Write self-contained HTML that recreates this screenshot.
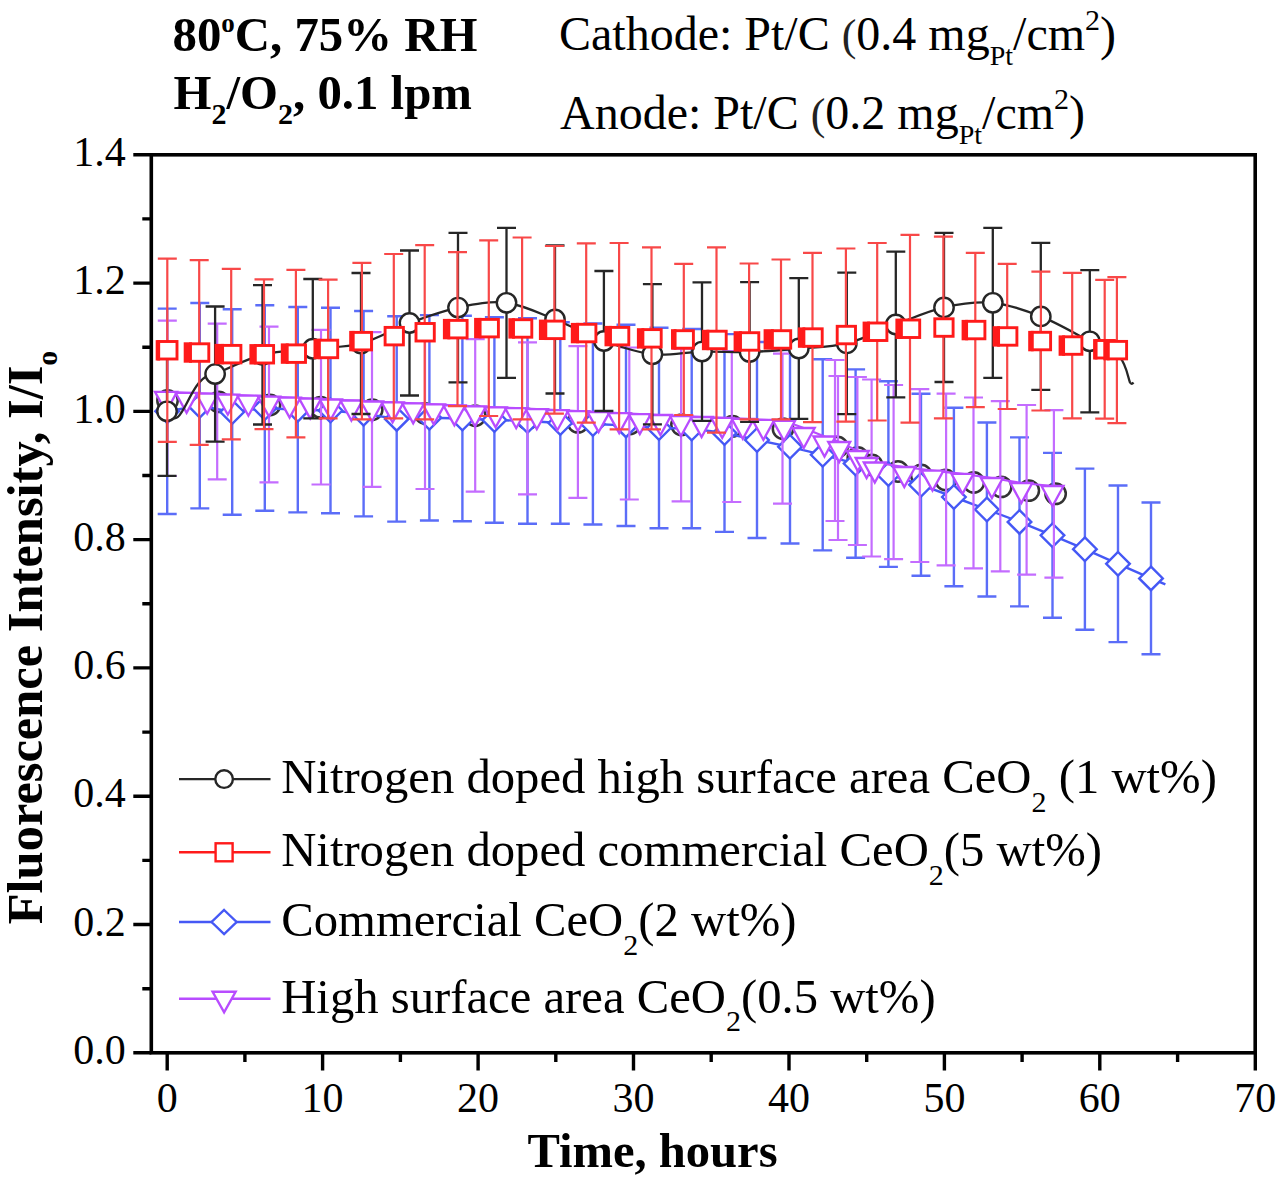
<!DOCTYPE html>
<html><head><meta charset="utf-8"><title>Fluorescence Intensity</title><style>html,body{margin:0;padding:0;background:#fff;}body{width:1280px;height:1179px;overflow:hidden;}svg{display:block;}</style></head><body>
<svg width="1280" height="1179" viewBox="0 0 1280 1179">
<rect width="1280" height="1179" fill="#fff"/>
<circle cx="167.5" cy="400.4" r="10.2" fill="#fff" stroke="#333333" stroke-width="2.5"/>
<circle cx="218.8" cy="401.9" r="10.2" fill="#fff" stroke="#333333" stroke-width="2.5"/>
<circle cx="270.0" cy="405.0" r="10.2" fill="#fff" stroke="#333333" stroke-width="2.5"/>
<circle cx="320.6" cy="407.3" r="10.2" fill="#fff" stroke="#333333" stroke-width="2.5"/>
<circle cx="372.2" cy="409.7" r="10.2" fill="#fff" stroke="#333333" stroke-width="2.5"/>
<circle cx="425.0" cy="413.5" r="10.2" fill="#fff" stroke="#333333" stroke-width="2.5"/>
<circle cx="475.2" cy="415.7" r="10.2" fill="#fff" stroke="#333333" stroke-width="2.5"/>
<circle cx="527.5" cy="419.0" r="10.2" fill="#fff" stroke="#333333" stroke-width="2.5"/>
<circle cx="578.0" cy="422.4" r="10.2" fill="#fff" stroke="#333333" stroke-width="2.5"/>
<circle cx="630.0" cy="424.0" r="10.2" fill="#fff" stroke="#333333" stroke-width="2.5"/>
<circle cx="681.5" cy="424.8" r="10.2" fill="#fff" stroke="#333333" stroke-width="2.5"/>
<circle cx="732.5" cy="426.3" r="10.2" fill="#fff" stroke="#333333" stroke-width="2.5"/>
<circle cx="783.0" cy="428.7" r="10.2" fill="#fff" stroke="#333333" stroke-width="2.5"/>
<circle cx="837.5" cy="447.0" r="10.2" fill="#fff" stroke="#333333" stroke-width="2.5"/>
<circle cx="857.8" cy="457.5" r="10.2" fill="#fff" stroke="#333333" stroke-width="2.5"/>
<circle cx="872.0" cy="465.0" r="10.2" fill="#fff" stroke="#333333" stroke-width="2.5"/>
<circle cx="898.0" cy="471.5" r="10.2" fill="#fff" stroke="#333333" stroke-width="2.5"/>
<circle cx="921.2" cy="475.0" r="10.2" fill="#fff" stroke="#333333" stroke-width="2.5"/>
<circle cx="945.6" cy="480.0" r="10.2" fill="#fff" stroke="#333333" stroke-width="2.5"/>
<circle cx="973.8" cy="482.5" r="10.2" fill="#fff" stroke="#333333" stroke-width="2.5"/>
<circle cx="1001.2" cy="486.9" r="10.2" fill="#fff" stroke="#333333" stroke-width="2.5"/>
<circle cx="1028.8" cy="490.6" r="10.2" fill="#fff" stroke="#333333" stroke-width="2.5"/>
<circle cx="1055.6" cy="493.8" r="10.2" fill="#fff" stroke="#333333" stroke-width="2.5"/>
<path d="M167.2 308.6V514.0M157.7 308.6H176.7M157.7 514.0H176.7" stroke="#5b6df8" stroke-width="2.4" fill="none"/>
<path d="M199.8 303.0V508.4M190.3 303.0H209.3M190.3 508.4H209.3" stroke="#5b6df8" stroke-width="2.4" fill="none"/>
<path d="M232.2 309.3V514.7M222.7 309.3H241.7M222.7 514.7H241.7" stroke="#5b6df8" stroke-width="2.4" fill="none"/>
<path d="M264.8 305.3V510.7M255.3 305.3H274.3M255.3 510.7H274.3" stroke="#5b6df8" stroke-width="2.4" fill="none"/>
<path d="M297.8 307.0V512.4M288.3 307.0H307.3M288.3 512.4H307.3" stroke="#5b6df8" stroke-width="2.4" fill="none"/>
<path d="M330.5 307.8V513.2M321.0 307.8H340.0M321.0 513.2H340.0" stroke="#5b6df8" stroke-width="2.4" fill="none"/>
<path d="M363.6 311.0V516.4M354.1 311.0H373.1M354.1 516.4H373.1" stroke="#5b6df8" stroke-width="2.4" fill="none"/>
<path d="M396.7 316.2V521.6M387.2 316.2H406.2M387.2 521.6H406.2" stroke="#5b6df8" stroke-width="2.4" fill="none"/>
<path d="M429.4 315.1V520.5M419.9 315.1H438.9M419.9 520.5H438.9" stroke="#5b6df8" stroke-width="2.4" fill="none"/>
<path d="M462.4 315.8V521.2M452.9 315.8H471.9M452.9 521.2H471.9" stroke="#5b6df8" stroke-width="2.4" fill="none"/>
<path d="M494.4 317.3V522.7M484.9 317.3H503.9M484.9 522.7H503.9" stroke="#5b6df8" stroke-width="2.4" fill="none"/>
<path d="M527.5 318.3V523.7M518.0 318.3H537.0M518.0 523.7H537.0" stroke="#5b6df8" stroke-width="2.4" fill="none"/>
<path d="M560.3 322.2V523.8M550.8 322.2H569.8M550.8 523.8H569.8" stroke="#5b6df8" stroke-width="2.4" fill="none"/>
<path d="M592.9 323.5V524.5M583.4 323.5H602.4M583.4 524.5H602.4" stroke="#5b6df8" stroke-width="2.4" fill="none"/>
<path d="M626.0 324.8V526.0M616.5 324.8H635.5M616.5 526.0H635.5" stroke="#5b6df8" stroke-width="2.4" fill="none"/>
<path d="M659.0 327.7V528.3M649.5 327.7H668.5M649.5 528.3H668.5" stroke="#5b6df8" stroke-width="2.4" fill="none"/>
<path d="M691.7 329.0V528.2M682.2 329.0H701.2M682.2 528.2H701.2" stroke="#5b6df8" stroke-width="2.4" fill="none"/>
<path d="M724.5 334.1V531.9M715.0 334.1H734.0M715.0 531.9H734.0" stroke="#5b6df8" stroke-width="2.4" fill="none"/>
<path d="M757.0 342.0V538.0M747.5 342.0H766.5M747.5 538.0H766.5" stroke="#5b6df8" stroke-width="2.4" fill="none"/>
<path d="M790.0 350.1V543.5M780.5 350.1H799.5M780.5 543.5H799.5" stroke="#5b6df8" stroke-width="2.4" fill="none"/>
<path d="M822.7 359.2V550.4M813.2 359.2H832.2M813.2 550.4H832.2" stroke="#5b6df8" stroke-width="2.4" fill="none"/>
<path d="M855.6 369.4V557.8M846.1 369.4H865.1M846.1 557.8H865.1" stroke="#5b6df8" stroke-width="2.4" fill="none"/>
<path d="M888.4 381.3V566.9M878.9 381.3H897.9M878.9 566.9H897.9" stroke="#5b6df8" stroke-width="2.4" fill="none"/>
<path d="M921.0 393.8V575.8M911.5 393.8H930.5M911.5 575.8H930.5" stroke="#5b6df8" stroke-width="2.4" fill="none"/>
<path d="M953.9 407.8V586.2M944.4 407.8H963.4M944.4 586.2H963.4" stroke="#5b6df8" stroke-width="2.4" fill="none"/>
<path d="M986.9 422.5V596.5M977.4 422.5H996.4M977.4 596.5H996.4" stroke="#5b6df8" stroke-width="2.4" fill="none"/>
<path d="M1019.5 437.4V606.4M1010.0 437.4H1029.0M1010.0 606.4H1029.0" stroke="#5b6df8" stroke-width="2.4" fill="none"/>
<path d="M1052.5 452.9V617.7M1043.0 452.9H1062.0M1043.0 617.7H1062.0" stroke="#5b6df8" stroke-width="2.4" fill="none"/>
<path d="M1084.9 468.6V629.8M1075.4 468.6H1094.4M1075.4 629.8H1094.4" stroke="#5b6df8" stroke-width="2.4" fill="none"/>
<path d="M1118.0 485.5V642.1M1108.5 485.5H1127.5M1108.5 642.1H1127.5" stroke="#5b6df8" stroke-width="2.4" fill="none"/>
<path d="M1151.0 502.5V654.3M1141.5 502.5H1160.5M1141.5 654.3H1160.5" stroke="#5b6df8" stroke-width="2.4" fill="none"/>
<polyline points="167.2,411.3 199.8,405.7 232.2,412.0 264.8,408.0 297.8,409.7 330.5,410.5 363.6,413.7 396.7,418.9 429.4,417.8 462.4,418.5 494.4,420.0 527.5,421.0 560.3,423.0 592.9,424.0 626.0,425.4 659.0,428.0 691.7,428.6 724.5,433.0 757.0,440.0 790.0,446.8 822.7,454.8 855.6,463.6 888.4,474.1 921.0,484.8 953.9,497.0 986.9,509.5 1019.5,521.9 1052.5,535.3 1084.9,549.2 1118.0,563.8 1151.0,578.4 1165.4,584.3" fill="none" stroke="#4558f5" stroke-width="2.4"/>
<path d="M167.2 399.5L179.0 411.3L167.2 423.1L155.4 411.3Z" fill="#fff" stroke="#4558f5" stroke-width="2.4"/>
<path d="M199.8 393.9L211.6 405.7L199.8 417.5L188.0 405.7Z" fill="#fff" stroke="#4558f5" stroke-width="2.4"/>
<path d="M232.2 400.2L244.0 412.0L232.2 423.8L220.4 412.0Z" fill="#fff" stroke="#4558f5" stroke-width="2.4"/>
<path d="M264.8 396.2L276.6 408.0L264.8 419.8L253.0 408.0Z" fill="#fff" stroke="#4558f5" stroke-width="2.4"/>
<path d="M297.8 397.9L309.6 409.7L297.8 421.5L286.0 409.7Z" fill="#fff" stroke="#4558f5" stroke-width="2.4"/>
<path d="M330.5 398.7L342.3 410.5L330.5 422.3L318.7 410.5Z" fill="#fff" stroke="#4558f5" stroke-width="2.4"/>
<path d="M363.6 401.9L375.4 413.7L363.6 425.5L351.8 413.7Z" fill="#fff" stroke="#4558f5" stroke-width="2.4"/>
<path d="M396.7 407.1L408.5 418.9L396.7 430.7L384.9 418.9Z" fill="#fff" stroke="#4558f5" stroke-width="2.4"/>
<path d="M429.4 406.0L441.2 417.8L429.4 429.6L417.6 417.8Z" fill="#fff" stroke="#4558f5" stroke-width="2.4"/>
<path d="M462.4 406.7L474.2 418.5L462.4 430.3L450.6 418.5Z" fill="#fff" stroke="#4558f5" stroke-width="2.4"/>
<path d="M494.4 408.2L506.2 420.0L494.4 431.8L482.6 420.0Z" fill="#fff" stroke="#4558f5" stroke-width="2.4"/>
<path d="M527.5 409.2L539.3 421.0L527.5 432.8L515.7 421.0Z" fill="#fff" stroke="#4558f5" stroke-width="2.4"/>
<path d="M560.3 411.2L572.1 423.0L560.3 434.8L548.5 423.0Z" fill="#fff" stroke="#4558f5" stroke-width="2.4"/>
<path d="M592.9 412.2L604.7 424.0L592.9 435.8L581.1 424.0Z" fill="#fff" stroke="#4558f5" stroke-width="2.4"/>
<path d="M626.0 413.6L637.8 425.4L626.0 437.2L614.2 425.4Z" fill="#fff" stroke="#4558f5" stroke-width="2.4"/>
<path d="M659.0 416.2L670.8 428.0L659.0 439.8L647.2 428.0Z" fill="#fff" stroke="#4558f5" stroke-width="2.4"/>
<path d="M691.7 416.8L703.5 428.6L691.7 440.4L679.9 428.6Z" fill="#fff" stroke="#4558f5" stroke-width="2.4"/>
<path d="M724.5 421.2L736.3 433.0L724.5 444.8L712.7 433.0Z" fill="#fff" stroke="#4558f5" stroke-width="2.4"/>
<path d="M757.0 428.2L768.8 440.0L757.0 451.8L745.2 440.0Z" fill="#fff" stroke="#4558f5" stroke-width="2.4"/>
<path d="M790.0 435.0L801.8 446.8L790.0 458.6L778.2 446.8Z" fill="#fff" stroke="#4558f5" stroke-width="2.4"/>
<path d="M822.7 443.0L834.5 454.8L822.7 466.6L810.9 454.8Z" fill="#fff" stroke="#4558f5" stroke-width="2.4"/>
<path d="M855.6 451.8L867.4 463.6L855.6 475.4L843.8 463.6Z" fill="#fff" stroke="#4558f5" stroke-width="2.4"/>
<path d="M888.4 462.3L900.2 474.1L888.4 485.9L876.6 474.1Z" fill="#fff" stroke="#4558f5" stroke-width="2.4"/>
<path d="M921.0 473.0L932.8 484.8L921.0 496.6L909.2 484.8Z" fill="#fff" stroke="#4558f5" stroke-width="2.4"/>
<path d="M953.9 485.2L965.7 497.0L953.9 508.8L942.1 497.0Z" fill="#fff" stroke="#4558f5" stroke-width="2.4"/>
<path d="M986.9 497.7L998.7 509.5L986.9 521.3L975.1 509.5Z" fill="#fff" stroke="#4558f5" stroke-width="2.4"/>
<path d="M1019.5 510.1L1031.3 521.9L1019.5 533.7L1007.7 521.9Z" fill="#fff" stroke="#4558f5" stroke-width="2.4"/>
<path d="M1052.5 523.5L1064.3 535.3L1052.5 547.1L1040.7 535.3Z" fill="#fff" stroke="#4558f5" stroke-width="2.4"/>
<path d="M1084.9 537.4L1096.7 549.2L1084.9 561.0L1073.1 549.2Z" fill="#fff" stroke="#4558f5" stroke-width="2.4"/>
<path d="M1118.0 552.0L1129.8 563.8L1118.0 575.6L1106.2 563.8Z" fill="#fff" stroke="#4558f5" stroke-width="2.4"/>
<path d="M1151.0 566.6L1162.8 578.4L1151.0 590.2L1139.2 578.4Z" fill="#fff" stroke="#4558f5" stroke-width="2.4"/>
<path d="M167.3 320.7V476.0M157.8 320.7H176.8M157.8 476.0H176.8" stroke="#c46cff" stroke-width="2.2" fill="none"/>
<path d="M217.2 323.7V479.3M207.7 323.7H226.7M207.7 479.3H226.7" stroke="#c46cff" stroke-width="2.2" fill="none"/>
<path d="M269.0 326.7V482.3M259.5 326.7H278.5M259.5 482.3H278.5" stroke="#c46cff" stroke-width="2.2" fill="none"/>
<path d="M321.0 329.9V484.5M311.5 329.9H330.5M311.5 484.5H330.5" stroke="#c46cff" stroke-width="2.2" fill="none"/>
<path d="M372.0 332.2V486.8M362.5 332.2H381.5M362.5 486.8H381.5" stroke="#c46cff" stroke-width="2.2" fill="none"/>
<path d="M425.0 336.0V489.0M415.5 336.0H434.5M415.5 489.0H434.5" stroke="#c46cff" stroke-width="2.2" fill="none"/>
<path d="M475.2 339.1V491.7M465.7 339.1H484.7M465.7 491.7H484.7" stroke="#c46cff" stroke-width="2.2" fill="none"/>
<path d="M527.5 342.4V494.4M518.0 342.4H537.0M518.0 494.4H537.0" stroke="#c46cff" stroke-width="2.2" fill="none"/>
<path d="M577.9 346.2V497.8M568.4 346.2H587.4M568.4 497.8H587.4" stroke="#c46cff" stroke-width="2.2" fill="none"/>
<path d="M629.3 347.5V499.5M619.8 347.5H638.8M619.8 499.5H638.8" stroke="#c46cff" stroke-width="2.2" fill="none"/>
<path d="M681.1 348.7V501.3M671.6 348.7H690.6M671.6 501.3H690.6" stroke="#c46cff" stroke-width="2.2" fill="none"/>
<path d="M731.8 351.0V502.0M722.3 351.0H741.3M722.3 502.0H741.3" stroke="#c46cff" stroke-width="2.2" fill="none"/>
<path d="M782.5 353.7V503.7M773.0 353.7H792.0M773.0 503.7H792.0" stroke="#c46cff" stroke-width="2.2" fill="none"/>
<path d="M835.0 360.0V521.0M825.5 360.0H844.5M825.5 521.0H844.5" stroke="#c46cff" stroke-width="2.2" fill="none"/>
<path d="M838.0 376.0V540.0M828.5 376.0H847.5M828.5 540.0H847.5" stroke="#c46cff" stroke-width="2.2" fill="none"/>
<path d="M857.4 377.0V545.0M847.9 377.0H866.9M847.9 545.0H866.9" stroke="#c46cff" stroke-width="2.2" fill="none"/>
<path d="M871.6 379.5V556.5M862.1 379.5H881.1M862.1 556.5H881.1" stroke="#c46cff" stroke-width="2.2" fill="none"/>
<path d="M893.6 385.0V559.2M884.1 385.0H903.1M884.1 559.2H903.1" stroke="#c46cff" stroke-width="2.2" fill="none"/>
<path d="M919.8 389.2V562.0M910.3 389.2H929.3M910.3 562.0H929.3" stroke="#c46cff" stroke-width="2.2" fill="none"/>
<path d="M946.1 393.7V565.3M936.6 393.7H955.6M936.6 565.3H955.6" stroke="#c46cff" stroke-width="2.2" fill="none"/>
<path d="M973.5 397.5V568.3M964.0 397.5H983.0M964.0 568.3H983.0" stroke="#c46cff" stroke-width="2.2" fill="none"/>
<path d="M1000.3 401.2V571.4M990.8 401.2H1009.8M990.8 571.4H1009.8" stroke="#c46cff" stroke-width="2.2" fill="none"/>
<path d="M1026.6 405.0V574.6M1017.1 405.0H1036.1M1017.1 574.6H1036.1" stroke="#c46cff" stroke-width="2.2" fill="none"/>
<path d="M1053.9 410.1V577.7M1044.4 410.1H1063.4M1044.4 577.7H1063.4" stroke="#c46cff" stroke-width="2.2" fill="none"/>
<polyline points="166.0,391.8 186.6,392.8 207.2,393.7 227.8,394.7 248.4,395.7 269.0,396.6 289.6,397.6 310.2,398.6 330.8,399.5 351.4,400.5 372.0,401.5 392.6,402.4 413.2,403.4 433.8,404.4 454.4,405.3 475.0,406.3 495.6,407.3 516.2,408.2 536.8,409.2 557.4,410.2 578.0,411.1 598.6,412.1 619.2,413.1 639.8,414.1 660.4,415.0 681.0,416.0 701.6,417.0 722.2,417.9 742.8,418.9 763.4,419.9 784.0,420.8 803.7,428.0 824.5,436.5 839.2,442.0 857.8,451.0 866.6,458.0 874.8,462.5 904.3,467.0 932.5,470.6 962.5,473.8 991.9,478.0 1021.3,483.0 1052.5,486.0" fill="none" stroke="#b84cff" stroke-width="2.2"/>
<path d="M155.0 391.8H177.0L166.0 411.8Z" fill="#fff" stroke="#b84cff" stroke-width="2.3" stroke-linejoin="miter"/>
<path d="M175.6 392.8H197.6L186.6 412.8Z" fill="#fff" stroke="#b84cff" stroke-width="2.3" stroke-linejoin="miter"/>
<path d="M196.2 393.7H218.2L207.2 413.7Z" fill="#fff" stroke="#b84cff" stroke-width="2.3" stroke-linejoin="miter"/>
<path d="M216.8 394.7H238.8L227.8 414.7Z" fill="#fff" stroke="#b84cff" stroke-width="2.3" stroke-linejoin="miter"/>
<path d="M237.4 395.7H259.4L248.4 415.7Z" fill="#fff" stroke="#b84cff" stroke-width="2.3" stroke-linejoin="miter"/>
<path d="M258.0 396.6H280.0L269.0 416.6Z" fill="#fff" stroke="#b84cff" stroke-width="2.3" stroke-linejoin="miter"/>
<path d="M278.6 397.6H300.6L289.6 417.6Z" fill="#fff" stroke="#b84cff" stroke-width="2.3" stroke-linejoin="miter"/>
<path d="M299.2 398.6H321.2L310.2 418.6Z" fill="#fff" stroke="#b84cff" stroke-width="2.3" stroke-linejoin="miter"/>
<path d="M319.8 399.5H341.8L330.8 419.5Z" fill="#fff" stroke="#b84cff" stroke-width="2.3" stroke-linejoin="miter"/>
<path d="M340.4 400.5H362.4L351.4 420.5Z" fill="#fff" stroke="#b84cff" stroke-width="2.3" stroke-linejoin="miter"/>
<path d="M361.0 401.5H383.0L372.0 421.5Z" fill="#fff" stroke="#b84cff" stroke-width="2.3" stroke-linejoin="miter"/>
<path d="M381.6 402.4H403.6L392.6 422.4Z" fill="#fff" stroke="#b84cff" stroke-width="2.3" stroke-linejoin="miter"/>
<path d="M402.2 403.4H424.2L413.2 423.4Z" fill="#fff" stroke="#b84cff" stroke-width="2.3" stroke-linejoin="miter"/>
<path d="M422.8 404.4H444.8L433.8 424.4Z" fill="#fff" stroke="#b84cff" stroke-width="2.3" stroke-linejoin="miter"/>
<path d="M443.4 405.3H465.4L454.4 425.3Z" fill="#fff" stroke="#b84cff" stroke-width="2.3" stroke-linejoin="miter"/>
<path d="M464.0 406.3H486.0L475.0 426.3Z" fill="#fff" stroke="#b84cff" stroke-width="2.3" stroke-linejoin="miter"/>
<path d="M484.6 407.3H506.6L495.6 427.3Z" fill="#fff" stroke="#b84cff" stroke-width="2.3" stroke-linejoin="miter"/>
<path d="M505.2 408.2H527.2L516.2 428.2Z" fill="#fff" stroke="#b84cff" stroke-width="2.3" stroke-linejoin="miter"/>
<path d="M525.8 409.2H547.8L536.8 429.2Z" fill="#fff" stroke="#b84cff" stroke-width="2.3" stroke-linejoin="miter"/>
<path d="M546.4 410.2H568.4L557.4 430.2Z" fill="#fff" stroke="#b84cff" stroke-width="2.3" stroke-linejoin="miter"/>
<path d="M567.0 411.1H589.0L578.0 431.1Z" fill="#fff" stroke="#b84cff" stroke-width="2.3" stroke-linejoin="miter"/>
<path d="M587.6 412.1H609.6L598.6 432.1Z" fill="#fff" stroke="#b84cff" stroke-width="2.3" stroke-linejoin="miter"/>
<path d="M608.2 413.1H630.2L619.2 433.1Z" fill="#fff" stroke="#b84cff" stroke-width="2.3" stroke-linejoin="miter"/>
<path d="M628.8 414.1H650.8L639.8 434.1Z" fill="#fff" stroke="#b84cff" stroke-width="2.3" stroke-linejoin="miter"/>
<path d="M649.4 415.0H671.4L660.4 435.0Z" fill="#fff" stroke="#b84cff" stroke-width="2.3" stroke-linejoin="miter"/>
<path d="M670.0 416.0H692.0L681.0 436.0Z" fill="#fff" stroke="#b84cff" stroke-width="2.3" stroke-linejoin="miter"/>
<path d="M690.6 417.0H712.6L701.6 437.0Z" fill="#fff" stroke="#b84cff" stroke-width="2.3" stroke-linejoin="miter"/>
<path d="M711.2 417.9H733.2L722.2 437.9Z" fill="#fff" stroke="#b84cff" stroke-width="2.3" stroke-linejoin="miter"/>
<path d="M731.8 418.9H753.8L742.8 438.9Z" fill="#fff" stroke="#b84cff" stroke-width="2.3" stroke-linejoin="miter"/>
<path d="M752.4 419.9H774.4L763.4 439.9Z" fill="#fff" stroke="#b84cff" stroke-width="2.3" stroke-linejoin="miter"/>
<path d="M773.0 420.8H795.0L784.0 440.8Z" fill="#fff" stroke="#b84cff" stroke-width="2.3" stroke-linejoin="miter"/>
<path d="M792.7 428.0H814.7L803.7 448.0Z" fill="#fff" stroke="#b84cff" stroke-width="2.3" stroke-linejoin="miter"/>
<path d="M813.5 436.5H835.5L824.5 456.5Z" fill="#fff" stroke="#b84cff" stroke-width="2.3" stroke-linejoin="miter"/>
<path d="M828.2 442.0H850.2L839.2 462.0Z" fill="#fff" stroke="#b84cff" stroke-width="2.3" stroke-linejoin="miter"/>
<path d="M846.8 451.0H868.8L857.8 471.0Z" fill="#fff" stroke="#b84cff" stroke-width="2.3" stroke-linejoin="miter"/>
<path d="M855.6 458.0H877.6L866.6 478.0Z" fill="#fff" stroke="#b84cff" stroke-width="2.3" stroke-linejoin="miter"/>
<path d="M863.8 462.5H885.8L874.8 482.5Z" fill="#fff" stroke="#b84cff" stroke-width="2.3" stroke-linejoin="miter"/>
<path d="M893.3 467.0H915.3L904.3 487.0Z" fill="#fff" stroke="#b84cff" stroke-width="2.3" stroke-linejoin="miter"/>
<path d="M921.5 470.6H943.5L932.5 490.6Z" fill="#fff" stroke="#b84cff" stroke-width="2.3" stroke-linejoin="miter"/>
<path d="M951.5 473.8H973.5L962.5 493.8Z" fill="#fff" stroke="#b84cff" stroke-width="2.3" stroke-linejoin="miter"/>
<path d="M980.9 478.0H1002.9L991.9 498.0Z" fill="#fff" stroke="#b84cff" stroke-width="2.3" stroke-linejoin="miter"/>
<path d="M1010.3 483.0H1032.3L1021.3 503.0Z" fill="#fff" stroke="#b84cff" stroke-width="2.3" stroke-linejoin="miter"/>
<path d="M1041.5 486.0H1063.5L1052.5 506.0Z" fill="#fff" stroke="#b84cff" stroke-width="2.3" stroke-linejoin="miter"/>
<path d="M167.0 346.7V475.9M157.5 346.7H176.5M157.5 475.9H176.5" stroke="#262626" stroke-width="2.3" fill="none"/>
<path d="M215.1 306.5V441.7M205.6 306.5H224.6M205.6 441.7H224.6" stroke="#262626" stroke-width="2.3" fill="none"/>
<path d="M262.5 285.1V424.5M253.0 285.1H272.0M253.0 424.5H272.0" stroke="#262626" stroke-width="2.3" fill="none"/>
<path d="M312.8 279.0V418.4M303.3 279.0H322.3M303.3 418.4H322.3" stroke="#262626" stroke-width="2.3" fill="none"/>
<path d="M361.0 273.0V414.0M351.5 273.0H370.5M351.5 414.0H370.5" stroke="#262626" stroke-width="2.3" fill="none"/>
<path d="M409.5 250.5V395.5M400.0 250.5H419.0M400.0 395.5H419.0" stroke="#262626" stroke-width="2.3" fill="none"/>
<path d="M458.0 232.9V382.3M448.5 232.9H467.5M448.5 382.3H467.5" stroke="#262626" stroke-width="2.3" fill="none"/>
<path d="M506.5 227.8V377.8M497.0 227.8H516.0M497.0 377.8H516.0" stroke="#262626" stroke-width="2.3" fill="none"/>
<path d="M555.0 245.5V393.5M545.5 245.5H564.5M545.5 393.5H564.5" stroke="#262626" stroke-width="2.3" fill="none"/>
<path d="M603.9 271.0V411.0M594.4 271.0H613.4M594.4 411.0H613.4" stroke="#262626" stroke-width="2.3" fill="none"/>
<path d="M652.4 284.2V424.4M642.9 284.2H661.9M642.9 424.4H661.9" stroke="#262626" stroke-width="2.3" fill="none"/>
<path d="M702.0 282.3V420.9M692.5 282.3H711.5M692.5 420.9H711.5" stroke="#262626" stroke-width="2.3" fill="none"/>
<path d="M749.6 282.2V421.8M740.1 282.2H759.1M740.1 421.8H759.1" stroke="#262626" stroke-width="2.3" fill="none"/>
<path d="M798.8 278.2V418.8M789.3 278.2H808.3M789.3 418.8H808.3" stroke="#262626" stroke-width="2.3" fill="none"/>
<path d="M846.8 272.6V414.2M837.3 272.6H856.3M837.3 414.2H856.3" stroke="#262626" stroke-width="2.3" fill="none"/>
<path d="M895.8 251.7V397.3M886.3 251.7H905.3M886.3 397.3H905.3" stroke="#262626" stroke-width="2.3" fill="none"/>
<path d="M944.0 232.8V382.0M934.5 232.8H953.5M934.5 382.0H953.5" stroke="#262626" stroke-width="2.3" fill="none"/>
<path d="M992.8 227.8V377.8M983.3 227.8H1002.3M983.3 377.8H1002.3" stroke="#262626" stroke-width="2.3" fill="none"/>
<path d="M1040.8 242.9V389.9M1031.3 242.9H1050.3M1031.3 389.9H1050.3" stroke="#262626" stroke-width="2.3" fill="none"/>
<path d="M1089.8 270.2V412.4M1080.3 270.2H1099.3M1080.3 412.4H1099.3" stroke="#262626" stroke-width="2.3" fill="none"/>
<path d="M167.0 411.3C182.9 439.7 188.1 373 215.1 374.1M215.1 374.1C223.0 370.9 246.2 359.0 262.5 354.8C278.8 350.6 296.4 350.6 312.8 348.7C329.2 346.8 344.9 347.8 361.0 343.5C377.1 339.2 393.3 329.0 409.5 323.0C425.7 317.0 441.8 311.0 458.0 307.6C474.2 304.2 490.3 300.8 506.5 302.8C522.7 304.8 538.8 313.1 555.0 319.5C571.2 325.9 587.7 335.2 603.9 341.0C620.1 346.8 636.0 352.5 652.4 354.3C668.8 356.1 685.8 352.0 702.0 351.6C718.2 351.2 733.5 352.5 749.6 352.0C765.7 351.5 782.6 349.9 798.8 348.5C815.0 347.1 830.6 347.4 846.8 343.4C863.0 339.4 879.6 330.5 895.8 324.5C912.0 318.5 927.8 311.0 944.0 307.4C960.2 303.8 976.7 301.3 992.8 302.8C1008.9 304.3 1024.6 310.0 1040.8 316.4C1057.0 322.8 1076.7 334.5 1089.8 341.3C1102.9 348.1 1112.8 350.1 1119.5 357.0C1126.2 363.9 1128.2 378.2 1130.0 382.5Q1131.5 385 1133.5 382.5" fill="none" stroke="#262626" stroke-width="2.3"/>
<circle cx="167.0" cy="411.3" r="9.7" fill="#fff" stroke="#262626" stroke-width="2.4"/>
<circle cx="215.1" cy="374.1" r="9.7" fill="#fff" stroke="#262626" stroke-width="2.4"/>
<circle cx="262.5" cy="354.8" r="9.7" fill="#fff" stroke="#262626" stroke-width="2.4"/>
<circle cx="312.8" cy="348.7" r="9.7" fill="#fff" stroke="#262626" stroke-width="2.4"/>
<circle cx="361.0" cy="343.5" r="9.7" fill="#fff" stroke="#262626" stroke-width="2.4"/>
<circle cx="409.5" cy="323.0" r="9.7" fill="#fff" stroke="#262626" stroke-width="2.4"/>
<circle cx="458.0" cy="307.6" r="9.7" fill="#fff" stroke="#262626" stroke-width="2.4"/>
<circle cx="506.5" cy="302.8" r="9.7" fill="#fff" stroke="#262626" stroke-width="2.4"/>
<circle cx="555.0" cy="319.5" r="9.7" fill="#fff" stroke="#262626" stroke-width="2.4"/>
<circle cx="603.9" cy="341.0" r="9.7" fill="#fff" stroke="#262626" stroke-width="2.4"/>
<circle cx="652.4" cy="354.3" r="9.7" fill="#fff" stroke="#262626" stroke-width="2.4"/>
<circle cx="702.0" cy="351.6" r="9.7" fill="#fff" stroke="#262626" stroke-width="2.4"/>
<circle cx="749.6" cy="352.0" r="9.7" fill="#fff" stroke="#262626" stroke-width="2.4"/>
<circle cx="798.8" cy="348.5" r="9.7" fill="#fff" stroke="#262626" stroke-width="2.4"/>
<circle cx="846.8" cy="343.4" r="9.7" fill="#fff" stroke="#262626" stroke-width="2.4"/>
<circle cx="895.8" cy="324.5" r="9.7" fill="#fff" stroke="#262626" stroke-width="2.4"/>
<circle cx="944.0" cy="307.4" r="9.7" fill="#fff" stroke="#262626" stroke-width="2.4"/>
<circle cx="992.8" cy="302.8" r="9.7" fill="#fff" stroke="#262626" stroke-width="2.4"/>
<circle cx="1040.8" cy="316.4" r="9.7" fill="#fff" stroke="#262626" stroke-width="2.4"/>
<circle cx="1089.8" cy="341.3" r="9.7" fill="#fff" stroke="#262626" stroke-width="2.4"/>
<path d="M167.3 258.7V441.8M157.8 258.7H176.8M157.8 441.8H176.8" stroke="#f84848" stroke-width="2.2" fill="none"/>
<path d="M199.2 260.1V444.9M189.7 260.1H208.7M189.7 444.9H208.7" stroke="#f84848" stroke-width="2.2" fill="none"/>
<path d="M231.2 268.8V439.4M221.8 268.8H240.8M221.8 439.4H240.8" stroke="#f84848" stroke-width="2.2" fill="none"/>
<path d="M264.0 279.4V429.2M254.5 279.4H273.5M254.5 429.2H273.5" stroke="#f84848" stroke-width="2.2" fill="none"/>
<path d="M295.9 269.9V437.4M286.4 269.9H305.4M286.4 437.4H305.4" stroke="#f84848" stroke-width="2.2" fill="none"/>
<path d="M328.1 279.6V418.4M318.6 279.6H337.6M318.6 418.4H337.6" stroke="#f84848" stroke-width="2.2" fill="none"/>
<path d="M361.9 262.8V419.4M352.4 262.8H371.4M352.4 419.4H371.4" stroke="#f84848" stroke-width="2.2" fill="none"/>
<path d="M393.8 254.0V418.3M384.2 254.0H403.2M384.2 418.3H403.2" stroke="#f84848" stroke-width="2.2" fill="none"/>
<path d="M424.7 245.2V419.4M415.2 245.2H434.2M415.2 419.4H434.2" stroke="#f84848" stroke-width="2.2" fill="none"/>
<path d="M457.5 252.2V406.1M448.0 252.2H467.0M448.0 406.1H467.0" stroke="#f84848" stroke-width="2.2" fill="none"/>
<path d="M488.8 240.3V416.0M479.2 240.3H498.2M479.2 416.0H498.2" stroke="#f84848" stroke-width="2.2" fill="none"/>
<path d="M522.1 237.5V419.4M512.6 237.5H531.6M512.6 419.4H531.6" stroke="#f84848" stroke-width="2.2" fill="none"/>
<path d="M554.4 246.0V413.6M544.9 246.0H563.9M544.9 413.6H563.9" stroke="#f84848" stroke-width="2.2" fill="none"/>
<path d="M586.2 243.4V422.7M576.8 243.4H595.8M576.8 422.7H595.8" stroke="#f84848" stroke-width="2.2" fill="none"/>
<path d="M619.1 243.0V429.3M609.6 243.0H628.6M609.6 429.3H628.6" stroke="#f84848" stroke-width="2.2" fill="none"/>
<path d="M651.5 247.4V429.3M642.0 247.4H661.0M642.0 429.3H661.0" stroke="#f84848" stroke-width="2.2" fill="none"/>
<path d="M683.8 263.9V415.0M674.2 263.9H693.2M674.2 415.0H693.2" stroke="#f84848" stroke-width="2.2" fill="none"/>
<path d="M716.5 247.4V432.6M707.0 247.4H726.0M707.0 432.6H726.0" stroke="#f84848" stroke-width="2.2" fill="none"/>
<path d="M749.1 263.5V419.4M739.6 263.5H758.6M739.6 419.4H758.6" stroke="#f84848" stroke-width="2.2" fill="none"/>
<path d="M781.0 259.5V419.4M771.5 259.5H790.5M771.5 419.4H790.5" stroke="#f84848" stroke-width="2.2" fill="none"/>
<path d="M812.5 252.9V422.2M803.0 252.9H822.0M803.0 422.2H822.0" stroke="#f84848" stroke-width="2.2" fill="none"/>
<path d="M845.9 248.5V421.6M836.4 248.5H855.4M836.4 421.6H855.4" stroke="#f84848" stroke-width="2.2" fill="none"/>
<path d="M877.2 243.0V420.5M867.7 243.0H886.7M867.7 420.5H886.7" stroke="#f84848" stroke-width="2.2" fill="none"/>
<path d="M910.0 234.8V422.7M900.5 234.8H919.5M900.5 422.7H919.5" stroke="#f84848" stroke-width="2.2" fill="none"/>
<path d="M943.4 236.7V418.3M933.9 236.7H952.9M933.9 418.3H952.9" stroke="#f84848" stroke-width="2.2" fill="none"/>
<path d="M975.3 252.9V407.2M965.8 252.9H984.8M965.8 407.2H984.8" stroke="#f84848" stroke-width="2.2" fill="none"/>
<path d="M1007.2 263.9V409.0M997.7 263.9H1016.7M997.7 409.0H1016.7" stroke="#f84848" stroke-width="2.2" fill="none"/>
<path d="M1040.9 271.6V410.5M1031.4 271.6H1050.4M1031.4 410.5H1050.4" stroke="#f84848" stroke-width="2.2" fill="none"/>
<path d="M1072.2 272.8V418.3M1062.8 272.8H1081.8M1062.8 418.3H1081.8" stroke="#f84848" stroke-width="2.2" fill="none"/>
<path d="M1104.7 279.8V418.7M1095.2 279.8H1114.2M1095.2 418.7H1114.2" stroke="#f84848" stroke-width="2.2" fill="none"/>
<path d="M1116.9 277.2V423.1M1107.4 277.2H1126.4M1107.4 423.1H1126.4" stroke="#f84848" stroke-width="2.2" fill="none"/>
<rect x="155.7" y="340.1" width="4.4" height="20.4" fill="#ff1a1a"/>
<rect x="158.7" y="341.5" width="18.3" height="17.5" fill="#fff" stroke="#ff1a1a" stroke-width="2.9"/>
<rect x="183.7" y="342.3" width="8.3" height="20.4" fill="#ff1a1a"/>
<rect x="190.5" y="343.8" width="18.3" height="17.5" fill="#fff" stroke="#ff1a1a" stroke-width="2.9"/>
<rect x="214.5" y="343.9" width="9.6" height="20.4" fill="#ff1a1a"/>
<rect x="222.6" y="345.4" width="18.3" height="17.5" fill="#fff" stroke="#ff1a1a" stroke-width="2.9"/>
<rect x="249.4" y="344.1" width="7.4" height="20.4" fill="#ff1a1a"/>
<rect x="255.3" y="345.5" width="18.3" height="17.5" fill="#fff" stroke="#ff1a1a" stroke-width="2.9"/>
<rect x="280.8" y="343.4" width="7.9" height="20.4" fill="#ff1a1a"/>
<rect x="287.2" y="344.9" width="18.3" height="17.5" fill="#fff" stroke="#ff1a1a" stroke-width="2.9"/>
<rect x="313.5" y="338.8" width="7.4" height="20.4" fill="#ff1a1a"/>
<rect x="319.4" y="340.2" width="18.3" height="17.5" fill="#fff" stroke="#ff1a1a" stroke-width="2.9"/>
<rect x="349.2" y="330.9" width="5.5" height="20.4" fill="#ff1a1a"/>
<rect x="353.2" y="332.4" width="18.3" height="17.5" fill="#fff" stroke="#ff1a1a" stroke-width="2.9"/>
<rect x="385.1" y="327.4" width="18.3" height="17.5" fill="#fff" stroke="#ff1a1a" stroke-width="2.9"/>
<rect x="416.0" y="323.5" width="18.3" height="17.5" fill="#fff" stroke="#ff1a1a" stroke-width="2.9"/>
<rect x="442.9" y="318.9" width="7.4" height="20.4" fill="#ff1a1a"/>
<rect x="448.8" y="320.4" width="18.3" height="17.5" fill="#fff" stroke="#ff1a1a" stroke-width="2.9"/>
<rect x="474.1" y="317.9" width="7.4" height="20.4" fill="#ff1a1a"/>
<rect x="480.1" y="319.4" width="18.3" height="17.5" fill="#fff" stroke="#ff1a1a" stroke-width="2.9"/>
<rect x="508.4" y="318.2" width="6.5" height="20.4" fill="#ff1a1a"/>
<rect x="513.5" y="319.7" width="18.3" height="17.5" fill="#fff" stroke="#ff1a1a" stroke-width="2.9"/>
<rect x="538.9" y="319.6" width="8.3" height="20.4" fill="#ff1a1a"/>
<rect x="545.8" y="321.1" width="18.3" height="17.5" fill="#fff" stroke="#ff1a1a" stroke-width="2.9"/>
<rect x="570.8" y="322.9" width="8.3" height="20.4" fill="#ff1a1a"/>
<rect x="577.6" y="324.3" width="18.3" height="17.5" fill="#fff" stroke="#ff1a1a" stroke-width="2.9"/>
<rect x="604.5" y="325.9" width="7.4" height="20.4" fill="#ff1a1a"/>
<rect x="610.5" y="327.4" width="18.3" height="17.5" fill="#fff" stroke="#ff1a1a" stroke-width="2.9"/>
<rect x="636.9" y="328.2" width="7.4" height="20.4" fill="#ff1a1a"/>
<rect x="642.9" y="329.6" width="18.3" height="17.5" fill="#fff" stroke="#ff1a1a" stroke-width="2.9"/>
<rect x="671.0" y="329.2" width="5.5" height="20.4" fill="#ff1a1a"/>
<rect x="675.1" y="330.7" width="18.3" height="17.5" fill="#fff" stroke="#ff1a1a" stroke-width="2.9"/>
<rect x="701.9" y="329.8" width="7.4" height="20.4" fill="#ff1a1a"/>
<rect x="707.9" y="331.2" width="18.3" height="17.5" fill="#fff" stroke="#ff1a1a" stroke-width="2.9"/>
<rect x="733.6" y="331.2" width="8.3" height="20.4" fill="#ff1a1a"/>
<rect x="740.5" y="332.7" width="18.3" height="17.5" fill="#fff" stroke="#ff1a1a" stroke-width="2.9"/>
<rect x="763.6" y="329.2" width="10.2" height="20.4" fill="#ff1a1a"/>
<rect x="772.4" y="330.7" width="18.3" height="17.5" fill="#fff" stroke="#ff1a1a" stroke-width="2.9"/>
<rect x="797.9" y="327.4" width="7.4" height="20.4" fill="#ff1a1a"/>
<rect x="803.9" y="328.8" width="18.3" height="17.5" fill="#fff" stroke="#ff1a1a" stroke-width="2.9"/>
<rect x="837.2" y="326.3" width="18.3" height="17.5" fill="#fff" stroke="#ff1a1a" stroke-width="2.9"/>
<rect x="862.6" y="321.6" width="7.4" height="20.4" fill="#ff1a1a"/>
<rect x="868.6" y="323.0" width="18.3" height="17.5" fill="#fff" stroke="#ff1a1a" stroke-width="2.9"/>
<rect x="895.4" y="318.6" width="7.4" height="20.4" fill="#ff1a1a"/>
<rect x="901.4" y="320.0" width="18.3" height="17.5" fill="#fff" stroke="#ff1a1a" stroke-width="2.9"/>
<rect x="934.8" y="318.8" width="18.3" height="17.5" fill="#fff" stroke="#ff1a1a" stroke-width="2.9"/>
<rect x="961.6" y="319.9" width="6.5" height="20.4" fill="#ff1a1a"/>
<rect x="966.6" y="321.3" width="18.3" height="17.5" fill="#fff" stroke="#ff1a1a" stroke-width="2.9"/>
<rect x="992.6" y="326.2" width="7.4" height="20.4" fill="#ff1a1a"/>
<rect x="998.6" y="327.7" width="18.3" height="17.5" fill="#fff" stroke="#ff1a1a" stroke-width="2.9"/>
<rect x="1028.2" y="330.9" width="5.5" height="20.4" fill="#ff1a1a"/>
<rect x="1032.3" y="332.3" width="18.3" height="17.5" fill="#fff" stroke="#ff1a1a" stroke-width="2.9"/>
<rect x="1058.6" y="335.4" width="6.5" height="20.4" fill="#ff1a1a"/>
<rect x="1063.6" y="336.8" width="18.3" height="17.5" fill="#fff" stroke="#ff1a1a" stroke-width="2.9"/>
<rect x="1093.1" y="339.1" width="4.4" height="20.4" fill="#ff1a1a"/>
<rect x="1096.1" y="340.5" width="18.3" height="17.5" fill="#fff" stroke="#ff1a1a" stroke-width="2.9"/>
<rect x="1103.3" y="339.9" width="6.4" height="20.4" fill="#ff1a1a"/>
<rect x="1108.3" y="341.4" width="18.3" height="17.5" fill="#fff" stroke="#ff1a1a" stroke-width="2.9"/>
<g stroke="#000" fill="none">
<rect x="151.3" y="154.8" width="1103.9" height="898" stroke-width="3.6"/>
<path d="M133.3 1052.8H151.3 M133.3 924.5H151.3 M133.3 796.2H151.3 M133.3 667.9H151.3 M133.3 539.6H151.3 M133.3 411.4H151.3 M133.3 283.1H151.3 M133.3 154.8H151.3 M142.3 988.7H151.3 M142.3 860.4H151.3 M142.3 732.1H151.3 M142.3 603.8H151.3 M142.3 475.5H151.3 M142.3 347.2H151.3 M142.3 218.9H151.3 M167.2 1052.8V1070.6 M322.6 1052.8V1070.6 M478.1 1052.8V1070.6 M633.5 1052.8V1070.6 M789.0 1052.8V1070.6 M944.4 1052.8V1070.6 M1099.8 1052.8V1070.6 M1255.3 1052.8V1070.6 M244.9 1052.8V1062 M400.4 1052.8V1062 M555.8 1052.8V1062 M711.2 1052.8V1062 M866.7 1052.8V1062 M1022.1 1052.8V1062 M1177.6 1052.8V1062" stroke-width="3.4"/>
</g>
<g font-family="Liberation Serif, serif" font-size="42" fill="#000">
<text x="125.8" y="1064.0" text-anchor="end">0.0</text>
<text x="125.8" y="935.7" text-anchor="end">0.2</text>
<text x="125.8" y="807.4" text-anchor="end">0.4</text>
<text x="125.8" y="679.1" text-anchor="end">0.6</text>
<text x="125.8" y="550.8" text-anchor="end">0.8</text>
<text x="125.8" y="422.6" text-anchor="end">1.0</text>
<text x="125.8" y="294.3" text-anchor="end">1.2</text>
<text x="125.8" y="166.0" text-anchor="end">1.4</text>
<text x="167.2" y="1112" text-anchor="middle">0</text>
<text x="322.6" y="1112" text-anchor="middle">10</text>
<text x="478.1" y="1112" text-anchor="middle">20</text>
<text x="633.5" y="1112" text-anchor="middle">30</text>
<text x="789.0" y="1112" text-anchor="middle">40</text>
<text x="944.4" y="1112" text-anchor="middle">50</text>
<text x="1099.8" y="1112" text-anchor="middle">60</text>
<text x="1255.3" y="1112" text-anchor="middle">70</text>
</g>
<text x="652.5" y="1167.3" text-anchor="middle" font-family="Liberation Serif, serif" font-weight="bold" font-size="48.6">Time, hours</text>
<text transform="translate(41.5,637.7) rotate(-90)" text-anchor="middle" font-family="Liberation Serif, serif" font-weight="bold" font-size="50.5">Fluorescence Intensity, I/I<tspan font-size="29" dy="15">o</tspan></text>
<g font-family="Liberation Serif, serif" font-size="48.8" fill="#000">
<text x="172.5" y="50.5" font-weight="bold">80<tspan font-size="27" dy="-19">o</tspan><tspan dy="19">C, 75% RH</tspan></text>
<text x="173.5" y="108.9" font-weight="bold">H<tspan font-size="30" dy="15">2</tspan><tspan dy="-15">/O</tspan><tspan font-size="30" dy="15">2</tspan><tspan dy="-15">, 0.1 lpm</tspan></text>
<text x="559" y="50.4" font-size="48">Cathode: Pt/C <tspan font-size="44" fill="#222">(</tspan>0.4 mg<tspan font-size="28" dy="15">Pt</tspan><tspan dy="-15">/cm</tspan><tspan font-size="30" dy="-20">2</tspan><tspan dy="20">)</tspan></text>
<text x="560" y="128.9" font-size="48">Anode: Pt/C <tspan font-size="44" fill="#222">(</tspan>0.2 mg<tspan font-size="28" dy="15">Pt</tspan><tspan dy="-15">/cm</tspan><tspan font-size="30" dy="-20">2</tspan><tspan dy="20">)</tspan></text>
</g>
<path d="M179 779.1H270.5" stroke="#262626" stroke-width="2.4"/>
<circle cx="224.1" cy="779.1" r="8.8" fill="#fff" stroke="#262626" stroke-width="2.4"/>
<text x="281.2" y="793.2" font-family="Liberation Serif, serif" font-size="48.7" fill="#000">Nitrogen doped high surface area CeO<tspan font-size="30" dy="18.5">2</tspan><tspan dy="-18.5"> (1 wt%)</tspan></text>
<path d="M179 852.3H270.5" stroke="#ff1a1a" stroke-width="2.4"/>
<rect x="215.6" y="843.3" width="17" height="18" fill="#fff" stroke="#ff1a1a" stroke-width="2.4"/>
<text x="281.2" y="866.4" font-family="Liberation Serif, serif" font-size="48.7" fill="#000">Nitrogen doped commercial CeO<tspan font-size="30" dy="18.5">2</tspan><tspan dy="-18.5">(5 wt%)</tspan></text>
<path d="M179 922.0H270.5" stroke="#4558f5" stroke-width="2.4"/>
<path d="M224.1 910.0L236.6 922.0L224.1 934.0L211.6 922.0Z" fill="#fff" stroke="#4558f5" stroke-width="2.4"/>
<text x="281.2" y="936.1" font-family="Liberation Serif, serif" font-size="48.7" fill="#000">Commercial CeO<tspan font-size="30" dy="18.5">2</tspan><tspan dy="-18.5">(2 wt%)</tspan></text>
<path d="M179 998.8H270.5" stroke="#b84cff" stroke-width="2.4"/>
<path d="M212.6 991.8H235.6L224.1 1012.3Z" fill="#fff" stroke="#b84cff" stroke-width="2.4"/>
<text x="281.2" y="1012.9" font-family="Liberation Serif, serif" font-size="48.7" fill="#000">High surface area CeO<tspan font-size="30" dy="18.5">2</tspan><tspan dy="-18.5">(0.5 wt%)</tspan></text>
</svg>
</body></html>
